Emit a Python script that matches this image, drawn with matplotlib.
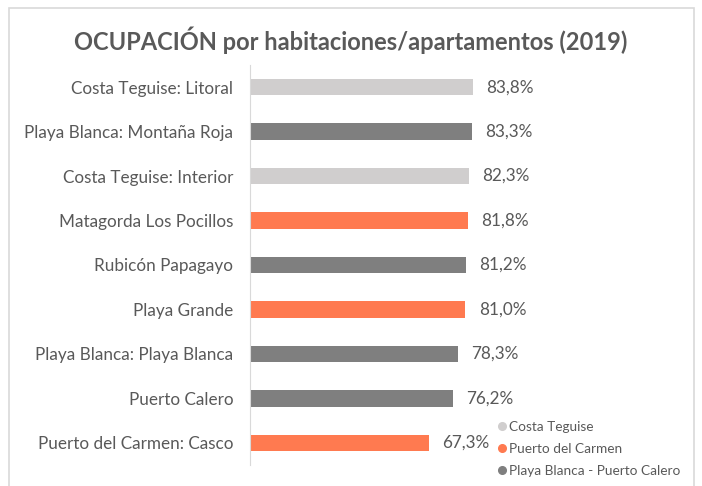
import matplotlib
matplotlib.use("Agg")
import matplotlib.pyplot as plt
from matplotlib.patches import Rectangle
from matplotlib.lines import Line2D

categories = ["Costa Teguise: Litoral", "Playa Blanca: Montaña Roja", "Costa Teguise: Interior",
              "Matagorda Los Pocillos", "Rubicón Papagayo", "Playa Grande",
              "Playa Blanca: Playa Blanca", "Puerto Calero", "Puerto del Carmen: Casco"]
values = [83.8, 83.3, 82.3, 81.8, 81.2, 81.0, 78.3, 76.2, 67.3]
groups = ["Costa Teguise", "Playa Blanca - Puerto Calero", "Costa Teguise",
          "Puerto del Carmen", "Playa Blanca - Puerto Calero", "Puerto del Carmen",
          "Playa Blanca - Puerto Calero", "Playa Blanca - Puerto Calero", "Puerto del Carmen"]
legend_order = ["Costa Teguise", "Puerto del Carmen", "Playa Blanca - Puerto Calero"]
colors = {"Costa Teguise": "#D0CECE", "Puerto del Carmen": "#FF7A50",
          "Playa Blanca - Puerto Calero": "#7F7F7F"}

plt.rcParams['font.family'] = ['Lato', 'DejaVu Sans']
txt = "#595959"

W, H = 702, 486
fig = plt.figure(figsize=(W/100, H/100), dpi=100)
fig.patches.append(Rectangle((9/W, -0.01), (694-9)/W, (486-8)/H + 0.01, transform=fig.transFigure,
                             fill=False, edgecolor="#D9D9D9", linewidth=1.2))
ax = fig.add_axes([250/W, 1-465/H, (620-250)/W, 400/H])
y = list(range(len(categories)))
ax.barh(y, values, height=0.37, color=[colors[g] for g in groups])
ax.set_ylim(len(categories)-0.5, -0.5)
ax.set_xlim(0, (620-250)/2.66)
ax.set_yticks(y)
ax.set_yticklabels(categories, fontsize=12.3, color=txt)
ax.tick_params(axis='y', length=0, pad=12)
ax.set_xticks([])
for s in ["top", "right", "bottom"]:
    ax.spines[s].set_visible(False)
ax.spines["left"].set_color("#D9D9D9")
for yi, v in zip(y, values):
    ax.text(v + 5, yi, f"{v:.1f}%".replace(".", ","), va="center", ha="left", fontsize=12.3, color=txt)

fig.text(351/W, 1-40/H, "OCUPACIÓN por habitaciones/apartamentos (2019)", ha="center", va="center",
         fontsize=17, fontweight="bold", color=txt)

handles = [Line2D([], [], marker="o", linestyle="", markersize=5.5, color=colors[g]) for g in legend_order]
fig.legend(handles, legend_order, loc="lower left", bbox_to_anchor=(488/W, 1-484/H), frameon=False,
           fontsize=9.8, labelcolor=txt, handletextpad=0.05, labelspacing=0.75, borderpad=0, handlelength=1)
fig.savefig("out.png", dpi=100)
